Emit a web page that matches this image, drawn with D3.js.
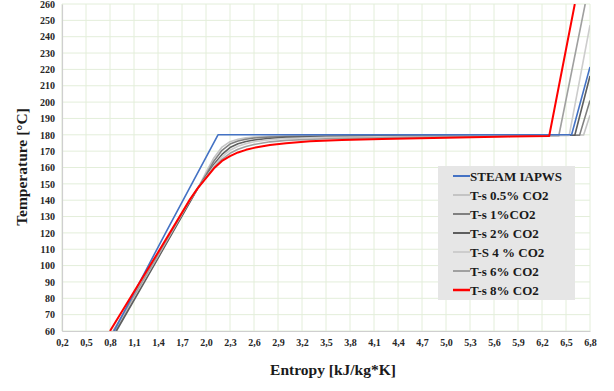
<!DOCTYPE html>
<html>
<head>
<meta charset="utf-8">
<script src="https://cdn.jsdelivr.net/npm/d3@7"></script>
<style>
  html, body { margin: 0; padding: 0; background: #fff; }
  svg { display: block; }
</style>
</head>
<body>
<svg id="chart" width="614" height="391" font-family="Liberation Serif" font-weight="bold"></svg>
<script>
// Tick labels
const xTicks = [0.2, 0.5, 0.8, 1.1, 1.4, 1.7, 2.0, 2.3, 2.6, 2.9, 3.2, 3.5, 3.8, 4.1, 4.4, 4.7, 5.0, 5.3, 5.6, 5.9, 6.2, 6.5, 6.8];
const yTicks = [60, 70, 80, 90, 100, 110, 120, 130, 140, 150, 160, 170, 180, 190, 200, 210, 220, 230, 240, 250, 260];

// Series names (legend order)
const seriesNames = ["STEAM IAPWS", "T-s 0.5% CO2", "T-s 1%CO2", "T-s 2% CO2", "T-S 4 % CO2", "T-s 6% CO2", "T-s 8% CO2"];

// Entropy [kJ/kg*K] and temperature [°C]
const steamS = [0.85, 1.5, 2.15, 6.57, 6.8];
const steamT = [60, 120.5, 180, 180, 221.5];

const co2_05S = [0.87, 1.4, 1.8, 1.9, 2.0, 2.1, 2.2, 2.3, 2.4, 2.5, 2.6, 2.8, 3.0, 3.5, 4.5, 5.5, 6.72, 6.8];
const co2_05T = [60, 105, 139, 147.5, 157, 166, 172.5, 175.8, 177.3, 178.1, 178.6, 179.1, 179.3, 179.5, 179.7, 179.8, 179.9, 192];

const co2_1S = [0.86, 1.4, 1.8, 1.9, 2.0, 2.1, 2.2, 2.3, 2.4, 2.5, 2.6, 2.8, 3.0, 3.5, 4.5, 5.5, 6.67, 6.8];
const co2_1T = [60, 105.5, 139.5, 147.5, 155.5, 164, 170.5, 174.3, 176.2, 177.3, 178, 178.7, 179, 179.3, 179.5, 179.7, 179.8, 201];

const co2_2S = [0.88, 1.4, 1.8, 1.9, 2.0, 2.1, 2.2, 2.3, 2.4, 2.5, 2.6, 2.8, 3.0, 3.5, 4.5, 5.5, 6.61, 6.8];
const co2_2T = [60, 104.5, 139, 147.5, 154.5, 162, 168, 172.2, 174.5, 175.9, 176.8, 177.9, 178.4, 178.9, 179.3, 179.5, 179.7, 216];

const co2_4S = [0.85, 1.4, 1.8, 1.9, 2.0, 2.1, 2.2, 2.3, 2.4, 2.5, 2.6, 2.8, 3.0, 3.5, 4.5, 5.5, 6.54, 6.8];
const co2_4T = [60, 106, 140, 147.5, 154, 161, 166.5, 170.5, 173, 174.6, 175.7, 177, 177.7, 178.4, 178.9, 179.3, 179.6, 247];

const co2_6S = [0.84, 1.4, 1.8, 1.9, 2.0, 2.1, 2.2, 2.3, 2.4, 2.5, 2.6, 2.8, 3.0, 3.5, 4.5, 5.5, 6.41, 6.74];
const co2_6T = [60, 106.5, 140.5, 147.8, 153.8, 160, 165, 168.7, 171.2, 172.9, 174.1, 175.7, 176.6, 177.6, 178.4, 179, 179.4, 260];

const co2_8S = [0.8, 1.4, 1.8, 1.9, 2.0, 2.1, 2.2, 2.3, 2.4, 2.5, 2.6, 2.8, 3.0, 3.3, 3.7, 4.2, 5.0, 5.8, 6.29, 6.61];
const co2_8T = [60, 108, 140.5, 147.5, 153.5, 159.5, 164, 167, 169.2, 170.8, 172, 173.8, 174.9, 176, 176.8, 177.4, 178.2, 178.9, 179.3, 260];

const seriesS = [steamS, co2_05S, co2_1S, co2_2S, co2_4S, co2_6S, co2_8S];
const seriesT = [steamT, co2_05T, co2_1T, co2_2T, co2_4T, co2_6T, co2_8T];
const colors = ["#4472c4", "#c4c4c4", "#808080", "#5e5e5e", "#cdcdcd", "#a0a0a0", "#ff0000"];
const widths = [1.6, 1.6, 1.6, 1.6, 1.6, 1.6, 2];

const FONT = "Liberation Serif";

const svg = d3.select("#chart");
const margin = { left: 62, right: 24, top: 4, bottom: 60 };
const width = 614, height = 391;

const x = d3.scaleLinear().domain([0.2, 6.8]).range([margin.left, width - margin.right]);
const y = d3.scaleLinear().domain([60, 260]).range([height - margin.bottom, margin.top]);

const comma = v => d3.format(".1f")(v).replace(".", ",");

// grid
const grid = svg.append("g");
grid.selectAll("line.v")
    .data(xTicks)
    .enter()
    .append("line")
    .attr("class", "v")
    .attr("x1", d => x(d)).attr("x2", d => x(d))
    .attr("y1", y(60)).attr("y2", y(260))
    .attr("stroke", "#e3eeda").attr("stroke-width", 1);

grid.selectAll("line.h")
    .data(yTicks)
    .enter()
    .append("line")
    .attr("class", "h")
    .attr("x1", x(0.2)).attr("x2", x(6.8))
    .attr("y1", d => y(d)).attr("y2", d => y(d))
    .attr("stroke", "#e3eeda").attr("stroke-width", 1);

// axes
const xAxis = svg.append("g")
    .attr("transform", `translate(0,${y(60)})`)
    .call(d3.axisBottom(x).tickValues(xTicks).tickFormat(comma).tickSize(0).tickPadding(8));
const yAxis = svg.append("g")
    .attr("transform", `translate(${x(0.2)},0)`)
    .call(d3.axisLeft(y).tickValues(yTicks).tickSize(0).tickPadding(7));

[xAxis, yAxis].forEach(a => {
    a.attr("font-family", FONT).attr("font-weight", "bold").attr("font-size", 10);
    a.select(".domain").attr("stroke", "#cfcfcf").attr("stroke-width", 1.2);
    a.selectAll("text").attr("fill", "#262626");
});

// clip
svg.append("clipPath").attr("id", "plot-clip")
    .append("rect")
    .attr("x", x(0.2)).attr("y", y(260))
    .attr("width", x(6.8) - x(0.2)).attr("height", y(60) - y(260));

const line = d3.line()
    .x(d => x(d[0]))
    .y(d => y(d[1]));

// grays first, then steam, red on top
const drawOrder = [1, 2, 3, 4, 5, 0, 6];
svg.append("g")
    .attr("clip-path", "url(#plot-clip)")
    .selectAll("path")
    .data(drawOrder)
    .enter()
    .append("path")
    .attr("d", i => line(seriesS[i].map((s, k) => [s, seriesT[i][k]])))
    .attr("fill", "none")
    .attr("stroke", i => colors[i])
    .attr("stroke-width", i => widths[i])
    .attr("stroke-linejoin", "round");

// legend
const legend = svg.append("g");
legend.append("rect")
    .attr("x", 438).attr("y", 166)
    .attr("width", 137).attr("height", 134)
    .attr("fill", "#e6e6e6");

const rows = legend.selectAll("g.row")
    .data(seriesNames)
    .enter()
    .append("g")
    .attr("class", "row")
    .attr("transform", (d, i) => `translate(453,${176 + i * 19})`);

rows.append("line")
    .attr("x1", 0).attr("x2", 17)
    .attr("stroke", (d, i) => colors[i])
    .attr("stroke-width", (d, i) => i === 6 ? 2.5 : 2);

rows.append("text")
    .attr("x", 17)
    .attr("dy", "0.35em")
    .attr("font-size", 13)
    .attr("fill", "#1a1a1a")
    .text(d => d);

// axis titles
svg.append("text")
    .attr("x", 333).attr("y", 375)
    .attr("text-anchor", "middle")
    .attr("font-size", 15.5)
    .attr("fill", "#1a1a1a")
    .text("Entropy [kJ/kg*K]");

svg.append("text")
    .attr("transform", "translate(27,167) rotate(-90)")
    .attr("text-anchor", "middle")
    .attr("font-size", 15.5)
    .attr("fill", "#1a1a1a")
    .text("Temperature [°C]");
</script>
</body>
</html>
